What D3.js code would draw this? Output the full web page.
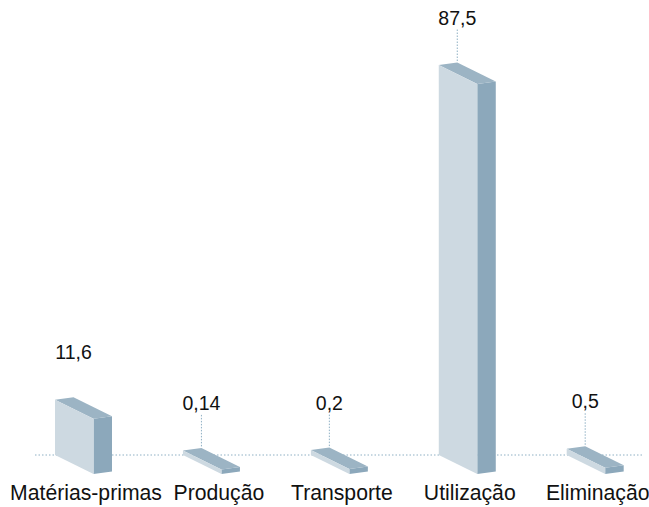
<!DOCTYPE html>
<html>
<head>
<meta charset="utf-8">
<script src="https://cdn.jsdelivr.net/npm/d3@7"></script>
<style>
  html, body { margin: 0; padding: 0; background: #fff; }
  svg { display: block; }
  text { font-family: "Liberation Sans", Arial, Helvetica, sans-serif; fill: #111; }
</style>
</head>
<body>
<svg id="chart" width="649" height="507"></svg>
<script>
const categories = ["Matérias-primas", "Produção", "Transporte", "Utilização", "Eliminação"];
const values = [11.6, 0.14, 0.2, 87.5, 0.5];
const valueLabels = ["11,6", "0,14", "0,2", "87,5", "0,5"];

const svg = d3.select("#chart");

const baseY = 455;             // front-left bottom corner of every box
const widthVec = [38.5, 19];   // front face width direction
const depthVec = [18.5, -2.5]; // depth direction

const x = d3.scalePoint().domain(categories).range([55, 566.7]);
const h = d3.scaleLinear().domain([0, d3.max(values)]).range([4, 390]);

const colFront = "#cdd9e1", colTop = "#9cb4c4", colSide = "#8ca8bb";
const dotCol = "#8fb0c4";

// baseline dotted line
svg.append("line")
  .attr("x1", 35).attr("x2", 642)
  .attr("y1", baseY).attr("y2", baseY)
  .attr("stroke", dotCol).attr("stroke-width", 1)
  .attr("stroke-dasharray", "1.5,2");

const data = categories.map((c, i) => ({ c, v: values[i], label: valueLabels[i], i }));

const g = svg.append("g");
data.forEach(d => {
  const x0 = x(d.c);
  const hh = h(d.v);
  const FLb = [x0, baseY];
  const FRb = [x0 + widthVec[0], baseY + widthVec[1]];
  const FLt = [x0, baseY - hh];
  const FRt = [FRb[0], FRb[1] - hh];
  const BLt = [FLt[0] + depthVec[0], FLt[1] + depthVec[1]];
  const BRt = [FRt[0] + depthVec[0], FRt[1] + depthVec[1]];
  const BRb = [FRb[0] + depthVec[0], FRb[1] + depthVec[1]];
  const poly = pts => "M" + pts.map(p => p.join(",")).join("L") + "Z";

  g.append("path").attr("d", poly([FRb, BRb, BRt, FRt])).attr("fill", colSide);
  g.append("path").attr("d", poly([FLt, BLt, BRt, FRt])).attr("fill", colTop);
  g.append("path").attr("d", poly([FLb, FRb, FRt, FLt])).attr("fill", colFront);

  const labY = BLt[1] - 38;
  if (d.i !== 0) {
    g.append("line")
      .attr("x1", BLt[0]).attr("x2", BLt[0])
      .attr("y1", labY + 5).attr("y2", BLt[1])
      .attr("stroke", dotCol).attr("stroke-width", 1)
      .attr("stroke-dasharray", "1.5,1.5");
  }
  g.append("text")
    .attr("x", BLt[0]).attr("y", labY)
    .attr("text-anchor", "middle")
    .attr("font-size", 19.5)
    .text(d.label);

  g.append("text")
    .attr("x", x0 + 31 + (d.i === 1 ? 5 : 0)).attr("y", 500)
    .attr("text-anchor", "middle")
    .attr("font-size", 21.2)
    .text(d.c);
});
</script>
</body>
</html>
